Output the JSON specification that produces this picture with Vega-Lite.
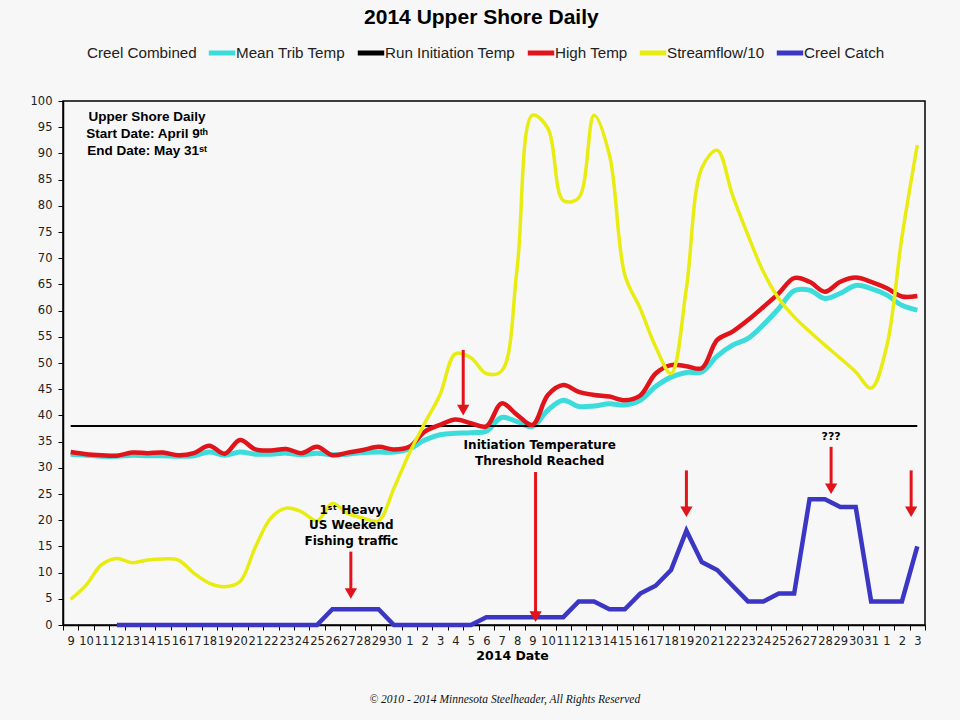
{
  "$schema": "https://vega.github.io/schema/vega-lite/v6.json",
  "width": 862,
  "height": 524,
  "autosize": {"type": "none"},
  "padding": {"left": 63, "top": 101, "right": 35, "bottom": 95},
  "background": "#f7f7f7",
  "title": {"text": "2014 Upper Shore Daily", "font": "Liberation Sans", "fontSize": 21, "fontWeight": "bold", "color": "#000", "anchor": "middle", "frame": "bounds", "offset": 9},
  "config": {
    "view": {"stroke": "#000", "strokeWidth": 1.5, "fill": "#f7f7f7"},
    "axis": {"grid": false, "domainColor": "#000", "domainWidth": 1.5, "tickColor": "#000", "tickWidth": 1, "labelFont": "DejaVu Sans", "labelFontSize": 11.5, "labelColor": "#222"},
    "legend": {"orient": "none", "legendX": -6, "legendY": -64, "direction": "horizontal", "symbolType": "stroke", "symbolStrokeWidth": 5, "symbolSize": 700, "labelFont": "Liberation Sans", "labelFontSize": 15.2, "labelColor": "#222", "labelOffset": -2, "columnPadding": 1, "labelLimit": 400, "title": null}
  },
  "datasets": {
    "series": [
      {"i": 0, "Mean Trib Temp": 32.6, "High Temp": 33.0, "Streamflow/10": 4.9, "Creel Catch": null, "Run Initiation Temp": 38},
      {"i": 1, "Mean Trib Temp": 32.4, "High Temp": 32.6, "Streamflow/10": 7.6, "Creel Catch": null, "Run Initiation Temp": null},
      {"i": 2, "Mean Trib Temp": 32.2, "High Temp": 32.4, "Streamflow/10": 11.5, "Creel Catch": null, "Run Initiation Temp": null},
      {"i": 3, "Mean Trib Temp": 32.2, "High Temp": 32.3, "Streamflow/10": 12.7, "Creel Catch": 0, "Run Initiation Temp": null},
      {"i": 4, "Mean Trib Temp": 32.4, "High Temp": 32.9, "Streamflow/10": 11.9, "Creel Catch": 0, "Run Initiation Temp": null},
      {"i": 5, "Mean Trib Temp": 32.3, "High Temp": 32.8, "Streamflow/10": 12.4, "Creel Catch": 0, "Run Initiation Temp": null},
      {"i": 6, "Mean Trib Temp": 32.3, "High Temp": 32.9, "Streamflow/10": 12.6, "Creel Catch": 0, "Run Initiation Temp": null},
      {"i": 7, "Mean Trib Temp": 32.2, "High Temp": 32.4, "Streamflow/10": 12.4, "Creel Catch": 0, "Run Initiation Temp": null},
      {"i": 8, "Mean Trib Temp": 32.3, "High Temp": 32.8, "Streamflow/10": 9.9, "Creel Catch": 0, "Run Initiation Temp": null},
      {"i": 9, "Mean Trib Temp": 33.0, "High Temp": 34.2, "Streamflow/10": 8.0, "Creel Catch": 0, "Run Initiation Temp": null},
      {"i": 10, "Mean Trib Temp": 32.4, "High Temp": 32.7, "Streamflow/10": 7.3, "Creel Catch": 0, "Run Initiation Temp": null},
      {"i": 11, "Mean Trib Temp": 33.0, "High Temp": 35.3, "Streamflow/10": 8.3, "Creel Catch": 0, "Run Initiation Temp": null},
      {"i": 12, "Mean Trib Temp": 32.6, "High Temp": 33.5, "Streamflow/10": 14.9, "Creel Catch": 0, "Run Initiation Temp": null},
      {"i": 13, "Mean Trib Temp": 32.6, "High Temp": 33.3, "Streamflow/10": 20.4, "Creel Catch": 0, "Run Initiation Temp": null},
      {"i": 14, "Mean Trib Temp": 32.8, "High Temp": 33.6, "Streamflow/10": 22.3, "Creel Catch": 0, "Run Initiation Temp": null},
      {"i": 15, "Mean Trib Temp": 32.5, "High Temp": 32.8, "Streamflow/10": 21.6, "Creel Catch": 0, "Run Initiation Temp": null},
      {"i": 16, "Mean Trib Temp": 32.8, "High Temp": 34.0, "Streamflow/10": 19.9, "Creel Catch": 0, "Run Initiation Temp": null},
      {"i": 17, "Mean Trib Temp": 32.5, "High Temp": 32.4, "Streamflow/10": 23.2, "Creel Catch": 3, "Run Initiation Temp": null},
      {"i": 18, "Mean Trib Temp": 32.6, "High Temp": 32.9, "Streamflow/10": 21.3, "Creel Catch": 3, "Run Initiation Temp": null},
      {"i": 19, "Mean Trib Temp": 32.9, "High Temp": 33.4, "Streamflow/10": 20.4, "Creel Catch": 3, "Run Initiation Temp": null},
      {"i": 20, "Mean Trib Temp": 33.0, "High Temp": 34.0, "Streamflow/10": 19.9, "Creel Catch": 3, "Run Initiation Temp": null},
      {"i": 21, "Mean Trib Temp": 33.0, "High Temp": 33.5, "Streamflow/10": 26.1, "Creel Catch": 0, "Run Initiation Temp": null},
      {"i": 22, "Mean Trib Temp": 33.6, "High Temp": 34.0, "Streamflow/10": 32.8, "Creel Catch": 0, "Run Initiation Temp": null},
      {"i": 23, "Mean Trib Temp": 35.3, "High Temp": 36.9, "Streamflow/10": 38.5, "Creel Catch": 0, "Run Initiation Temp": null},
      {"i": 24, "Mean Trib Temp": 36.3, "High Temp": 38.2, "Streamflow/10": 44.0, "Creel Catch": 0, "Run Initiation Temp": null},
      {"i": 25, "Mean Trib Temp": 36.6, "High Temp": 39.2, "Streamflow/10": 51.8, "Creel Catch": 0, "Run Initiation Temp": null},
      {"i": 26, "Mean Trib Temp": 36.7, "High Temp": 38.5, "Streamflow/10": 51.0, "Creel Catch": 0, "Run Initiation Temp": null},
      {"i": 27, "Mean Trib Temp": 37.0, "High Temp": 37.9, "Streamflow/10": 48.0, "Creel Catch": 1.5, "Run Initiation Temp": null},
      {"i": 28, "Mean Trib Temp": 39.6, "High Temp": 42.3, "Streamflow/10": 48.5, "Creel Catch": 1.5, "Run Initiation Temp": null},
      {"i": 29, "Mean Trib Temp": 38.8, "High Temp": 40.1, "Streamflow/10": 68.0, "Creel Catch": 1.5, "Run Initiation Temp": null},
      {"i": 30, "Mean Trib Temp": 37.9, "High Temp": 38.2, "Streamflow/10": 97.3, "Creel Catch": 1.5, "Run Initiation Temp": null},
      {"i": 31, "Mean Trib Temp": 41.0, "High Temp": 43.9, "Streamflow/10": 94.8, "Creel Catch": 1.5, "Run Initiation Temp": null},
      {"i": 32, "Mean Trib Temp": 42.9, "High Temp": 45.8, "Streamflow/10": 81.0, "Creel Catch": 1.5, "Run Initiation Temp": null},
      {"i": 33, "Mean Trib Temp": 41.7, "High Temp": 44.5, "Streamflow/10": 81.5, "Creel Catch": 4.5, "Run Initiation Temp": null},
      {"i": 34, "Mean Trib Temp": 41.8, "High Temp": 43.9, "Streamflow/10": 97.3, "Creel Catch": 4.5, "Run Initiation Temp": null},
      {"i": 35, "Mean Trib Temp": 42.2, "High Temp": 43.6, "Streamflow/10": 89.7, "Creel Catch": 3, "Run Initiation Temp": null},
      {"i": 36, "Mean Trib Temp": 42.0, "High Temp": 42.9, "Streamflow/10": 66.8, "Creel Catch": 3, "Run Initiation Temp": null},
      {"i": 37, "Mean Trib Temp": 42.9, "High Temp": 43.8, "Streamflow/10": 60.4, "Creel Catch": 6, "Run Initiation Temp": null},
      {"i": 38, "Mean Trib Temp": 45.5, "High Temp": 48.0, "Streamflow/10": 53.1, "Creel Catch": 7.5, "Run Initiation Temp": null},
      {"i": 39, "Mean Trib Temp": 47.3, "High Temp": 49.6, "Streamflow/10": 48.0, "Creel Catch": 10.5, "Run Initiation Temp": null},
      {"i": 40, "Mean Trib Temp": 48.2, "High Temp": 49.4, "Streamflow/10": 64.3, "Creel Catch": 18, "Run Initiation Temp": null},
      {"i": 41, "Mean Trib Temp": 48.3, "High Temp": 49.0, "Streamflow/10": 87.2, "Creel Catch": 12, "Run Initiation Temp": null},
      {"i": 42, "Mean Trib Temp": 51.3, "High Temp": 54.4, "Streamflow/10": 90.6, "Creel Catch": 10.5, "Run Initiation Temp": null},
      {"i": 43, "Mean Trib Temp": 53.4, "High Temp": 56.0, "Streamflow/10": 82.0, "Creel Catch": 7.5, "Run Initiation Temp": null},
      {"i": 44, "Mean Trib Temp": 54.7, "High Temp": 58.2, "Streamflow/10": 74.4, "Creel Catch": 4.5, "Run Initiation Temp": null},
      {"i": 45, "Mean Trib Temp": 57.3, "High Temp": 60.7, "Streamflow/10": 67.4, "Creel Catch": 4.5, "Run Initiation Temp": null},
      {"i": 46, "Mean Trib Temp": 60.4, "High Temp": 63.3, "Streamflow/10": 62.3, "Creel Catch": 6, "Run Initiation Temp": null},
      {"i": 47, "Mean Trib Temp": 63.8, "High Temp": 66.2, "Streamflow/10": 58.8, "Creel Catch": 6, "Run Initiation Temp": null},
      {"i": 48, "Mean Trib Temp": 63.9, "High Temp": 65.5, "Streamflow/10": 56.0, "Creel Catch": 24, "Run Initiation Temp": null},
      {"i": 49, "Mean Trib Temp": 62.3, "High Temp": 63.6, "Streamflow/10": 53.4, "Creel Catch": 24, "Run Initiation Temp": null},
      {"i": 50, "Mean Trib Temp": 63.3, "High Temp": 65.5, "Streamflow/10": 50.9, "Creel Catch": 22.5, "Run Initiation Temp": null},
      {"i": 51, "Mean Trib Temp": 64.8, "High Temp": 66.3, "Streamflow/10": 48.3, "Creel Catch": 22.5, "Run Initiation Temp": null},
      {"i": 52, "Mean Trib Temp": 64.2, "High Temp": 65.5, "Streamflow/10": 45.2, "Creel Catch": 4.5, "Run Initiation Temp": null},
      {"i": 53, "Mean Trib Temp": 63.0, "High Temp": 64.3, "Streamflow/10": 53.0, "Creel Catch": 4.5, "Run Initiation Temp": null},
      {"i": 54, "Mean Trib Temp": 61.0, "High Temp": 62.7, "Streamflow/10": 74.0, "Creel Catch": 4.5, "Run Initiation Temp": null},
      {"i": 55, "Mean Trib Temp": 60.1, "High Temp": 62.8, "Streamflow/10": 91.6, "Creel Catch": 15, "Run Initiation Temp": 38}
    ],
    "arrows": [
      {"i": 25.5, "top": 52.5, "head": 41.0},
      {"i": 18.2, "top": 14.0, "head": 6.0},
      {"i": 30.2, "top": 29.2, "head": 1.6},
      {"i": 40.0, "top": 29.5, "head": 21.6},
      {"i": 49.4, "top": 34.0, "head": 26.0},
      {"i": 54.6, "top": 29.5, "head": 21.6}
    ],
    "boxnote": [
      {"i": 4.96, "v": 96.9, "label": "Upper Shore Daily"},
      {"i": 4.96, "v": 93.7, "label": "Start Date: April 9ᵗʰ"},
      {"i": 4.96, "v": 90.5, "label": "End Date: May 31ˢᵗ"}
    ],
    "notes": [
      {"i": 18.23, "v": 21.9, "label": "1ˢᵗ Heavy"},
      {"i": 18.23, "v": 19.1, "label": "US Weekend"},
      {"i": 18.23, "v": 16.0, "label": "Fishing traffic"},
      {"i": 30.47, "v": 34.35, "label": "Initiation Temperature"},
      {"i": 30.47, "v": 31.3, "label": "Threshold Reached"}
    ],
    "small": [
      {"i": 49.4, "v": 35.9, "label": "???"}
    ],
    "copyright": [
      {"i": 28.2, "v": -14.3, "label": "© 2010 - 2014  Minnesota Steelheader, All Rights Reserved"}
    ]
  },
  "encoding": {
    "x": {
      "field": "i", "type": "quantitative",
      "scale": {"domain": [-0.5, 55.5], "nice": false, "zero": false},
      "axis": {
        "title": "2014 Date", "titleFont": "DejaVu Sans", "titleFontSize": 12.5, "titleFontWeight": "bold", "titleColor": "#000",
        "titleX": 449, "titleY": 24, "titleBaseline": "top", "titleAlign": "center",
        "values": [-0.5,0.5,1.5,2.5,3.5,4.5,5.5,6.5,7.5,8.5,9.5,10.5,11.5,12.5,13.5,14.5,15.5,16.5,17.5,18.5,19.5,20.5,21.5,22.5,23.5,24.5,25.5,26.5,27.5,28.5,29.5,30.5,31.5,32.5,33.5,34.5,35.5,36.5,37.5,38.5,39.5,40.5,41.5,42.5,43.5,44.5,45.5,46.5,47.5,48.5,49.5,50.5,51.5,52.5,53.5,54.5,55.5],
        "labelExpr": "datum.value > 55 ? '' : (datum.value + 0.5 <= 21 ? '' + (datum.value + 9.5) : (datum.value + 0.5 <= 52 ? '' + (datum.value - 20.5) : '' + (datum.value - 51.5)))",
        "labelOffset": 7.7, "labelAlign": "center", "labelOverlap": false, "labelFlush": false, "labelBound": false,
        "tickSize": 5, "labelPadding": 5
      }
    },
    "y": {
      "field": "v", "type": "quantitative",
      "scale": {"domain": [0, 100], "nice": false},
      "axis": {"title": null, "values": [0,5,10,15,20,25,30,35,40,45,50,55,60,65,70,75,80,85,90,95,100], "tickSize": 5, "labelPadding": 6}
    }
  },
  "layer": [
    {
      "data": {"name": "series"},
      "transform": [
        {"fold": ["Mean Trib Temp", "Run Initiation Temp", "High Temp", "Streamflow/10", "Creel Catch"], "as": ["key", "v"]},
        {"filter": "isValid(datum.v)"}
      ],
      "encoding": {
        "color": {
          "field": "key", "type": "nominal",
          "scale": {
            "domain": ["Creel Combined", "Mean Trib Temp", "Run Initiation Temp", "High Temp", "Streamflow/10", "Creel Catch"],
            "range": ["transparent", "#3ddcdc", "#000000", "#e0141a", "#e8ec10", "#3b37c4"]
          },
          "sort": null
        }
      },
      "layer": [
        {"transform": [{"filter": "datum.key == 'Mean Trib Temp'"}], "mark": {"type": "line", "interpolate": "catmull-rom", "strokeWidth": 5}},
        {"transform": [{"filter": "datum.key == 'Run Initiation Temp'"}], "mark": {"type": "line", "strokeWidth": 2}},
        {"transform": [{"filter": "datum.key == 'High Temp'"}], "mark": {"type": "line", "interpolate": "catmull-rom", "strokeWidth": 4.5}},
        {"transform": [{"filter": "datum.key == 'Streamflow/10'"}], "mark": {"type": "line", "interpolate": "catmull-rom", "strokeWidth": 3.5}},
        {"transform": [{"filter": "datum.key == 'Creel Catch'"}], "mark": {"type": "line", "strokeWidth": 4.5}}
      ]
    },
    {
      "data": {"name": "arrows"},
      "mark": {"type": "rule", "color": "#e0141a", "strokeWidth": 3},
      "encoding": {"y": {"field": "top", "type": "quantitative"}, "y2": {"field": "head"}}
    },
    {
      "data": {"name": "arrows"},
      "mark": {"type": "point", "shape": "triangle-down", "filled": true, "color": "#e0141a", "opacity": 1, "size": 150},
      "encoding": {"y": {"field": "head", "type": "quantitative"}}
    },
    {
      "data": {"name": "boxnote"},
      "mark": {"type": "text", "font": "Liberation Sans", "fontSize": 13.5, "fontWeight": "bold", "color": "#000", "align": "center", "baseline": "middle"},
      "encoding": {"text": {"field": "label"}}
    },
    {
      "data": {"name": "notes"},
      "mark": {"type": "text", "font": "DejaVu Sans", "fontSize": 12, "fontWeight": "bold", "color": "#000", "align": "center", "baseline": "middle"},
      "encoding": {"text": {"field": "label"}}
    },
    {
      "data": {"name": "small"},
      "mark": {"type": "text", "font": "DejaVu Sans", "fontSize": 11, "fontWeight": "bold", "color": "#000", "align": "center", "baseline": "middle"},
      "encoding": {"text": {"field": "label"}}
    },
    {
      "data": {"name": "copyright"},
      "mark": {"type": "text", "font": "Liberation Serif", "fontSize": 11.5, "fontStyle": "italic", "color": "#111", "align": "center", "baseline": "middle"},
      "encoding": {"text": {"field": "label"}}
    }
  ]
}
